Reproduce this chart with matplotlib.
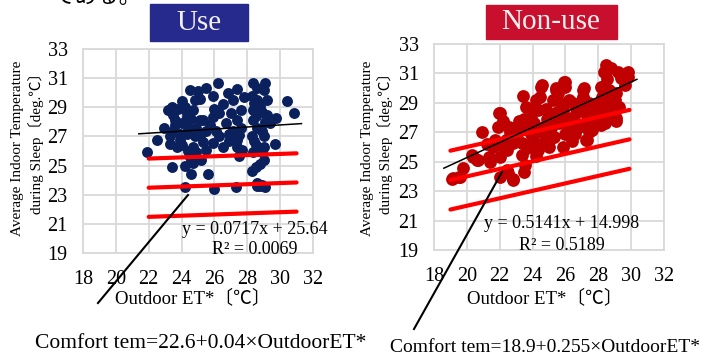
import matplotlib.pyplot as plt
from matplotlib.lines import Line2D

plt.rcParams['font.family'] = ['Liberation Serif', 'Noto Sans CJK JP', 'DejaVu Sans']

# data
use_x = [21.9, 22.5, 22.9, 23.4, 23.4, 23.5, 24.0, 24.5, 25.5, 26.2, 25.9, 25.1, 26.8, 27.4, 27.1,
         26.3, 25.9, 25.3, 27.6, 27.4, 27.1, 27.4, 27.4, 27.5, 25.9, 25.5, 25.1, 24.3, 24.7, 24.5,
         24.2, 24.7, 23.7, 23.3, 23.5, 24.0, 24.3, 24.7, 25.1, 24.9, 25.5, 26.1, 26.7, 26.9, 26.3, 23.9,
         24.2, 24.6, 25.6, 26.0, 27.3, 28.6, 28.9, 29.1, 28.3, 28.5, 28.8,
         28.35, 29.1, 28.3, 29.0, 28.6, 29.2, 28.35, 28.9, 28.35, 29.1, 28.6, 28.3, 29.0, 28.5, 29.0,
         28.35, 28.9, 29.0, 29.7, 29.75, 30.4, 30.85, 29.4, 28.6, 28.8,
         23.2, 23.8, 24.2, 24.8, 25.0, 23.6, 24.4, 24.8, 25.3, 24.0, 24.4, 23.9, 23.3, 24.6, 25.7,
         26.0, 26.5, 27.0, 27.8, 27.6, 24.9, 25.2, 26.5, 26.9, 28.4, 28.8, 28.5, 28.9, 28.4, 28.7,
         28.6, 29.2, 27.7, 23.6, 24.3, 27.5]
use_y = [25.9, 26.75, 27.6, 24.9, 29.0, 28.5, 29.4, 30.2, 30.3, 30.7, 29.8, 29.6, 30.0, 30.25, 29.5,
         28.6, 28.3, 28.1, 28.8, 28.1, 27.4, 26.75, 26.3, 25.65, 26.55, 26.1, 27.0, 27.2, 26.3, 25.6,
         25.0, 25.2, 26.3, 27.0, 27.4, 27.9, 28.6, 28.8, 28.1, 27.6, 27.4, 27.4, 27.9, 27.2, 27.0, 26.75,
         23.5, 24.4, 24.4, 23.4, 23.5, 23.6, 23.7, 23.5, 24.6, 24.9, 25.1,
         30.7, 30.7, 29.8, 30.2, 29.5, 29.5, 28.8, 28.7, 28.1, 28.0, 27.6, 27.0, 27.0, 26.4, 26.3,
         25.9, 25.9, 25.4, 26.5, 28.25, 29.4, 28.6, 27.9, 23.8, 23.6,
         28.8, 28.9, 29.0, 29.5, 30.1, 27.8, 27.6, 27.0, 26.6, 26.4, 26.0, 27.2, 26.5, 28.2, 27.8,
         28.9, 29.2, 28.6, 29.7, 27.6, 25.9, 25.4, 26.3, 26.7, 29.3, 29.1, 28.4, 27.4, 26.7, 26.0,
         30.3, 28.5, 26.1, 28.1, 28.3, 27.1]

non_x = [19.15, 19.5, 19.75, 20.35, 20.7, 20.9, 21.35, 21.6, 21.95, 21.9, 22.2, 22.55, 22.4, 22.2,
         22.8, 22.8, 23.2, 23.4, 23.6, 23.3, 23.8, 23.9, 24.2, 24.5, 24.3, 24.0, 23.8, 24.3, 24.7,
         24.8, 25.0, 25.25, 25.4, 25.55, 25.3, 25.85, 25.9, 26.0, 25.85, 26.2, 26.5, 26.65, 26.2,
         27.1, 27.05, 27.45, 27.25, 27.45, 27.25, 26.8, 27.85, 28.15, 28.45, 28.75, 28.35, 29.2,
         29.4, 29.8, 29.8, 28.65, 29.1, 28.45, 28.9, 28.35, 29.25, 28.9, 28.35, 28.15, 29.1,
         29.75, 28.2, 24.6, 26.0, 25.4, 27.05, 27.05, 28.2, 28.7, 28.85, 29.1, 28.4, 27.6, 27.7,
         27.4, 26.45, 25.85, 26.3, 26.45, 25.25, 27.3, 24.65, 24.0, 24.45,
         22.0, 22.2, 21.7, 22.45, 20.6, 20.3, 21.4, 19.1, 19.6, 22.45, 22.0, 22.8, 23.35, 23.55,
         23.65, 23.35, 22.5, 23.5, 22.8,
         23.0, 23.5, 24.1, 24.5, 24.9, 25.5, 25.1, 25.6, 26.0, 26.1, 26.9, 25.7, 24.8, 23.1, 23.9,
         24.6, 25.0, 26.6, 27.9, 28.6, 29.0, 28.5, 29.6, 22.6, 21.2, 22.0, 28.0, 27.2, 26.4, 24.2]
non_y = [23.9, 23.95, 24.6, 25.3, 25.1, 27.0, 25.3, 26.0, 28.3, 27.35, 27.8, 27.35, 26.5, 26.0,
         26.25, 26.9, 27.8, 29.5, 28.7, 27.15, 27.35, 28.0, 29.2, 30.1, 28.5, 26.5, 26.0, 25.8, 27.35,
         26.5, 28.0, 29.2, 29.9, 29.7, 26.7, 26.0, 30.4, 30.1, 28.5, 29.2, 27.8, 28.3, 27.35,
         30.0, 29.4, 29.0, 28.3, 27.0, 26.5, 27.35, 27.6, 30.1, 31.6, 31.4, 31.1, 31.1,
         30.7, 31.1, 30.75, 29.9, 29.7, 29.2, 28.7, 28.5, 28.7, 27.95, 27.8, 27.5, 28.0,
         31.0, 30.1, 30.2, 30.4, 30.0, 29.9, 29.3, 29.4, 29.4, 28.4, 27.8, 27.6, 27.15, 27.95,
         28.65, 29.0, 28.2, 27.5, 27.15, 26.7, 26.5, 27.15, 28.5, 29.4,
         28.3, 27.6, 26.5, 25.8, 25.1, 25.45, 25.0, 23.8, 23.95, 24.45, 23.95, 23.8, 25.45, 24.8,
         25.9, 26.3, 24.2, 24.3, 23.75,
         27.0, 27.9, 27.6, 27.0, 27.9, 28.4, 27.3, 27.6, 26.9, 28.0, 28.8, 29.0, 28.6, 26.4, 26.9,
         26.2, 26.0, 26.9, 28.3, 28.1, 29.2, 30.6, 30.2, 27.0, 26.2, 25.3, 29.0, 27.6, 26.4, 25.4]

# trend lines (end points)
use_trend_x = [21.4, 31.3]
use_trend_y = [27.18, 27.88]
non_trend_x = [18.6, 30.35]
non_trend_y = [24.56, 30.6]

# comfort band lines (upper, comfort, lower), end points
use_comf_x = [22.0, 31.0]
use_comf_y = [[25.48, 25.84], [23.48, 23.84], [21.48, 21.84]]
non_comf_x = [19.0, 29.9]
non_comf_y = [[25.75, 28.52], [23.75, 26.52], [21.75, 24.52]]

x_ticks = [18, 20, 22, 24, 26, 28, 30, 32]
y_ticks = [19, 21, 23, 25, 27, 29, 31, 33]

W, H = 716, 356
fig = plt.figure(figsize=(W / 100, H / 100), dpi=100)


def fx(px):
    return px / W


def fy(py):
    return 1 - py / H


def panel(rect, xs, ys, color, size, cx, cy, trend_x, trend_y):
    ax = fig.add_axes(rect)
    ax.set_xlim(18, 32)
    ax.set_ylim(19, 33)
    ax.set_xticks(x_ticks)
    ax.set_yticks(y_ticks)
    ax.grid(True, color='#d9d9d9', lw=1.3)
    ax.set_axisbelow(True)
    for s in ax.spines.values():
        s.set_color('#d9d9d9')
        s.set_linewidth(1.3)
    ax.tick_params(length=0, labelsize=14.5, pad=11)
    ax.tick_params(axis='x', pad=12)
    ax.scatter(xs, ys, s=size, color=color, zorder=3, linewidths=0)
    for yy in cy:
        ax.plot(cx, yy, color='#ff0000', lw=3.0, zorder=4, solid_capstyle='round')
    ax.plot(trend_x, trend_y, color='black', lw=1.1, zorder=5)
    return ax


panel([fx(83), fy(253), 230 / W, 204 / H], use_x, use_y, '#0a215e', 62,
      use_comf_x, use_comf_y, use_trend_x, use_trend_y)
panel([fx(434), fy(250), 230 / W, 206 / H], non_x, non_y, '#c00000', 85,
      non_comf_x, non_comf_y, non_trend_x, non_trend_y)

# title boxes
fig.patches.append(plt.Rectangle((fx(150), fy(41)), 98 / W, 37 / H, transform=fig.transFigure,
                                 color='#262a8c', zorder=1))
fig.text(fx(199), fy(23), 'Use', color='#f4f0f8', fontsize=21, ha='center', va='center')
fig.patches.append(plt.Rectangle((fx(486), fy(39)), 131 / W, 34 / H, transform=fig.transFigure,
                                 color='#c8102e', zorder=1))
fig.text(fx(551), fy(22), 'Non-use', color='#fbeff0', fontsize=21, ha='center', va='center')

# axis labels
for cxp, ylab_x1, ylab_x2 in [(193, 18, 36), (545, 367, 385)]:
    fig.text(fx(cxp), fy(298), 'Outdoor ET*〔℃〕', fontsize=13.5, ha='center', va='center')
    fig.text(fx(ylab_x1), fy(148), 'Average Indoor Temperature', fontsize=11, rotation=90,
             ha='center', va='center')
    fig.text(fx(ylab_x2), fy(140), 'during Sleep〔deg.℃〕', fontsize=11, rotation=90,
             ha='center', va='center')

# regression equations
fig.text(fx(255), fy(230), 'y = 0.0717x + 25.64', fontsize=13, ha='center', va='center')
fig.text(fx(255), fy(250), 'R² = 0.0069', fontsize=13, ha='center', va='center')
fig.text(fx(562), fy(224), 'y = 0.5141x + 14.998', fontsize=13, ha='center', va='center')
fig.text(fx(562), fy(246), 'R² = 0.5189', fontsize=13, ha='center', va='center')

# comfort annotations
fig.text(fx(35), fy(343), 'Comfort tem=22.6+0.04×OutdoorET*', fontsize=15.5, ha='left', va='center')
fig.text(fx(390), fy(347), 'Comfort tem=18.9+0.255×OutdoorET*', fontsize=14, ha='left', va='center')
fig.add_artist(Line2D([fx(98), fx(188)], [fy(303), fy(195)], color='black', lw=1.5,
                      transform=fig.transFigure))
fig.add_artist(Line2D([fx(414), fx(502)], [fy(329), fy(172)], color='black', lw=1.5,
                      transform=fig.transFigure))

# cut-off line of body text at the top
fig.text(fx(52), fy(-2), 'である。', fontsize=16, ha='left', va='center')

fig.savefig('out.png', dpi=100)
